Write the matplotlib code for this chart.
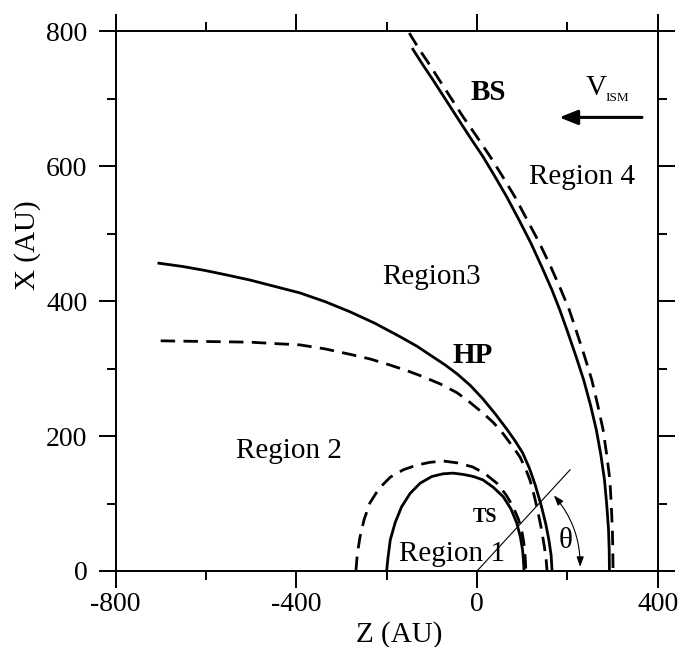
import matplotlib
matplotlib.use("Agg")
import matplotlib.pyplot as plt
from matplotlib.patches import FancyArrowPatch

plt.rcParams['font.family'] = ['Liberation Serif', 'DejaVu Serif']
plt.rcParams['axes.unicode_minus'] = False

# termination shock (TS)
ts_solid_z = [-200, -197, -192, -181, -167, -148, -126, -100, -75, -53, -30, -8,
              13, 36, 58, 75, 88, 96, 101, 103, 104]
ts_solid_x = [0, 20, 46, 72, 95, 115, 130, 140, 144, 145, 143, 140,
              135, 124, 110, 92, 71, 50, 30, 12, 0]
ts_dash_z = [-268, -265, -259, -250, -237, -217, -192, -163, -133, -104, -75, -42,
             -9, 18, 44, 64, 80, 92, 100, 105, 107, 108]
ts_dash_x = [0, 25, 50, 76, 101, 122, 139, 150, 157, 161, 163, 160,
             154, 144, 130, 113, 95, 76, 56, 35, 16, 0]

# heliopause (HP)
hp_solid_z = [-704, -650, -600, -550, -502, -450, -392, -336, -281, -226, -170, -133,
              -97, -70, -44, -15, 13, 40, 66, 84, 101, 116, 129, 142, 152, 159, 164, 166]
hp_solid_x = [456, 451, 445, 438, 431, 422, 412, 399, 384, 367, 347, 333,
              317, 305, 292, 275, 255, 233, 210, 193, 175, 152, 127, 97, 70, 46, 23, 0]
hp_dash_z = [-700, -600, -502, -450, -392, -336, -281, -236, -192, -156, -120, -81,
             -44, -16, 13, 36, 57, 76, 95, 107, 117, 126, 134, 142, 149, 153, 155]
hp_dash_x = [341, 340, 339, 337, 335, 329, 321, 314, 305, 297, 288, 277,
             264, 250, 234, 220, 204, 187, 169, 152, 135, 113, 90, 64, 36, 16, 0]

# bow shock (BS)
bs_solid_z = [-142, -120, -97, -71, -45, -16, 14, 40, 66, 93, 119, 143, 166,
              183, 199, 218, 236, 251, 264, 274, 282, 287, 291, 292.5, 293]
bs_solid_x = [773, 750, 727, 700, 673, 643, 613, 584, 554, 520, 486, 451, 416,
              387, 357, 320, 283, 246, 209, 172, 135, 98, 61, 30, 0]
bs_dash_z = [-150, -128, -105, -83, -57, -31, 0, 30, 57, 84, 111, 138, 163, 186,
             204, 219, 237, 254, 267, 279, 287, 294, 297, 299.5, 300.5, 301]
bs_dash_x = [797, 773, 750, 727, 700, 673, 643, 613, 584, 554, 520, 486, 451, 416,
             387, 357, 320, 283, 246, 209, 172, 135, 98, 61, 30, 0]

# theta construction line
theta_z = [0, 206]
theta_x = [0, 150]

fig = plt.figure(figsize=(6.79, 6.47), dpi=100)
ax = fig.add_axes([115.5 / 679, 76 / 647, 542.3 / 679, 540 / 647])

lw = 2.0
dash = (0, (5.2, 3.0))
ax.plot(ts_solid_z, ts_solid_x, color='black', lw=lw)
ax.plot(ts_dash_z, ts_dash_x, color='black', lw=lw, linestyle=dash)
ax.plot(hp_solid_z, hp_solid_x, color='black', lw=lw)
ax.plot(hp_dash_z, hp_dash_x, color='black', lw=lw, linestyle=dash)
ax.plot(bs_solid_z, bs_solid_x, color='black', lw=lw)
ax.plot(bs_dash_z, bs_dash_x, color='black', lw=lw, linestyle=dash)
ax.plot(theta_z, theta_x, color='black', lw=0.8)

arc = FancyArrowPatch((166, 115), (228, 2), arrowstyle='<|-|>,head_length=0.5,head_width=0.18',
                      connectionstyle='arc3,rad=-0.2', mutation_scale=12,
                      color='black', lw=0.8)
ax.add_patch(arc)

ax.annotate('', xy=(182, 672), xytext=(365, 672),
            arrowprops=dict(arrowstyle='-|>,head_length=0.55,head_width=0.22',
                            mutation_scale=20, color='black', lw=2.2,
                            shrinkA=0, shrinkB=0))

fs = 21
ax.text(24, 698, 'BS', fontsize=fs, fontweight='bold', ha='center', va='baseline')
ax.text(263, 705, 'V', fontsize=fs, ha='center', va='baseline')
ax.text(284, 696, 'ISM', fontsize=9.5, ha='left', va='baseline')
ax.text(232, 573, 'Region 4', fontsize=fs, ha='center', va='baseline')
ax.text(-100, 425, 'Region3', fontsize=fs, ha='center', va='baseline')
ax.text(-9, 308, 'HP', fontsize=fs, fontweight='bold', ha='center', va='baseline')
ax.text(-416, 167, 'Region 2', fontsize=fs, ha='center', va='baseline')
ax.text(18, 73, 'TS', fontsize=14.5, fontweight='bold', ha='center', va='baseline')
ax.text(-55, 15, 'Region 1', fontsize=fs, ha='center', va='baseline')
ax.text(197, 34, 'θ', fontsize=fs, ha='center', va='baseline')

ax.set_xlim(-800, 400)
ax.set_ylim(0, 800)
ax.set_xticks([-800, -400, 0, 400])
ax.set_xticks([-600, -200, 200], minor=True)
ax.set_yticks([0, 200, 400, 600, 800])
ax.set_yticks([100, 300, 500, 700], minor=True)
ax.tick_params(which='both', direction='out', top=True, right=True, width=1.4,
               labelsize=20)
ax.tick_params(axis='x', pad=3)
ax.tick_params(axis='y', pad=8)
ax.tick_params(which='major', length=12.2)
ax.tick_params(which='minor', length=6.5)
for s in ax.spines.values():
    s.set_linewidth(1.4)

ax.set_xlabel('Z (AU)', fontsize=fs)
ax.set_ylabel('X (AU)', fontsize=fs)
ax.xaxis.set_label_coords(0.523, -0.093)
ax.yaxis.set_label_coords(-0.137, 0.604)

fig.savefig('out.png', dpi=100)
